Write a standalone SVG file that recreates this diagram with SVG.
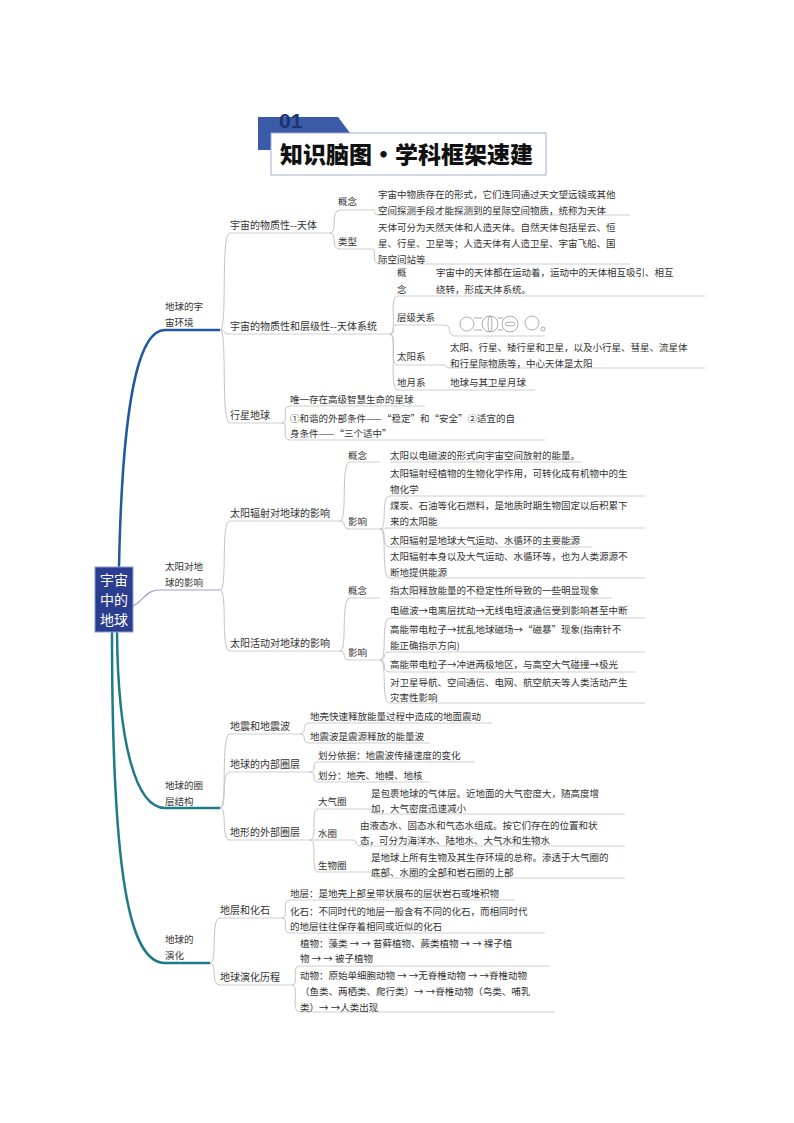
<svg xmlns="http://www.w3.org/2000/svg" width="794" height="1123" viewBox="0 0 794 1123">
<style>
text{font-family:"Noto Sans CJK SC","Noto Sans",sans-serif;fill:#333;font-size:9.5px}
.l2{font-size:10px}
.ul{stroke:#cfcfcf;stroke-width:1;fill:none}
.br{stroke:#c4c4c4;stroke-width:1;fill:none}
</style>
<rect width="794" height="1123" fill="#fff"/>
<g id="title">
<polygon points="258,117 338,117 350,133 271,133 271,150 258,150" fill="#3b5ba9"/>
<rect x="271" y="133" width="275" height="42" fill="#fff" stroke="#9fb0d0" stroke-width="1"/>
<text x="279" y="128" style="font-size:21px;font-weight:bold;fill:#1c3470;font-family:'Liberation Sans',sans-serif">01</text>
<text x="280" y="163" style="font-size:23px;font-weight:900;fill:#111">知识脑图·学科框架速建</text>
</g>
<g id="connectors">
<path d="M119,567 C122,420 135,330 165,330 L220,330" stroke="#1f5a9e" stroke-width="2.5" fill="none"/>
<path d="M133,606 C145,600 145,590 160,590 L220,590" stroke="#a89ad0" stroke-width="1.2" fill="none"/>
<path d="M117,632 C118,740 135,808 165,808 L220,808" stroke="#1e7c86" stroke-width="2.5" fill="none"/>
<path d="M112,632 C112,880 130,963 165,963 L210,963" stroke="#1e7c86" stroke-width="2.5" fill="none"/>
<g class="br">
<path d="M220,330 C228,330 220,233 230,233"/><path d="M220,330 C228,330 220,334 230,334"/><path d="M220,330 C228,330 220,423 230,423"/>
<path d="M330,233 C338,233 330,210 340,210"/><path d="M330,233 C338,233 330,249 340,249"/>
<path d="M372,210 C378,210 370,215 380,215"/><path d="M372,249 C378,249 370,264 380,264"/>
<path d="M390,334 C398,334 388,296 398,296"/><path d="M390,334 C398,334 388,325 398,325"/><path d="M390,334 C398,334 388,365 398,365"/><path d="M390,334 C398,334 388,390 398,390"/>
<path d="M445,325 C452,325 447,336 455,336"/><path d="M442,365 C450,365 443,368 452,368"/>
<path d="M282,423 C290,423 280,406 290,406"/><path d="M282,423 C290,423 280,440 290,440"/>
<path d="M220,590 C228,590 220,521 230,521"/><path d="M220,590 C228,590 220,651 230,651"/>
<path d="M340,521 C348,521 340,462 350,462"/><path d="M340,521 C348,521 340,529 350,529"/>
<path d="M380,529 C388,529 380,496 390,496"/><path d="M380,529 C388,529 380,528 390,528"/><path d="M380,529 C388,529 380,547 390,547"/><path d="M380,529 C388,529 380,578 390,578"/>
<path d="M340,651 C348,651 340,598 350,598"/><path d="M340,651 C348,651 340,660 350,660"/>
<path d="M380,660 C388,660 380,618 390,618"/><path d="M380,660 C388,660 380,652 390,652"/><path d="M380,660 C388,660 380,672 390,672"/><path d="M380,660 C388,660 380,703 390,703"/>
<path d="M220,808 C228,808 220,734 230,734"/><path d="M220,808 C228,808 220,772 230,772"/><path d="M220,808 C228,808 220,840 230,840"/>
<path d="M300,734 C308,734 300,723 310,723"/><path d="M300,734 C308,734 300,743 310,743"/>
<path d="M310,772 C318,772 310,762 318,762"/><path d="M310,772 C318,772 310,782 318,782"/>
<path d="M310,840 C318,840 310,809 318,809"/><path d="M310,840 C318,840 310,840 318,840"/><path d="M310,840 C318,840 310,872 318,872"/>
<path d="M370,809 C376,809 370,814 378,814"/><path d="M352,840 C360,840 352,846 362,846"/><path d="M370,872 C376,872 370,878 378,878"/>
<path d="M210,963 C218,963 210,918 220,918"/><path d="M210,963 C218,963 210,985 220,985"/>
<path d="M282,918 C290,918 280,900 290,900"/><path d="M282,918 C290,918 280,933 290,933"/>
<path d="M292,985 C300,985 290,966 300,966"/><path d="M292,985 C300,985 290,1012 300,1012"/>
</g>
<g class="ul">
<path d="M230,233 H330"/><path d="M230,334 H390"/><path d="M230,423 H282"/>
<path d="M340,210 H372"/><path d="M340,249 H372"/><path d="M380,215 H630"/><path d="M380,264 H630"/>
<path d="M398,296 H705"/><path d="M398,325 H445"/><path d="M455,336 H545"/><path d="M398,365 H442"/><path d="M452,368 H705"/><path d="M398,390 H535"/>
<path d="M290,406 H425"/><path d="M290,440 H545"/>
<path d="M230,521 H340"/><path d="M230,651 H340"/>
<path d="M350,462 H380"/><path d="M350,529 H380"/><path d="M390,462 H582"/>
<path d="M390,496 H645"/><path d="M390,528 H645"/><path d="M390,547 H592"/><path d="M390,578 H645"/>
<path d="M350,598 H380"/><path d="M350,660 H380"/><path d="M390,598 H612"/>
<path d="M390,618 H645"/><path d="M390,652 H645"/><path d="M390,672 H635"/><path d="M390,703 H645"/>
<path d="M230,734 H300"/><path d="M230,772 H310"/><path d="M230,840 H310"/>
<path d="M310,723 H492"/><path d="M310,743 H430"/><path d="M318,762 H475"/><path d="M318,782 H430"/>
<path d="M318,809 H370"/><path d="M318,840 H352"/><path d="M318,872 H370"/>
<path d="M378,814 H625"/><path d="M362,846 H625"/><path d="M378,878 H625"/>
<path d="M220,918 H282"/><path d="M220,985 H292"/>
<path d="M290,900 H515"/><path d="M290,933 H545"/><path d="M300,966 H550"/><path d="M300,1012 H555"/>
</g>
</g>
<g id="root">
<rect x="95" y="567" width="38" height="65" fill="#2b3d8f" stroke="#8fa0d0" stroke-width="1"/>
<text x="114" y="585" text-anchor="middle" style="fill:#fff;font-size:14px">宇宙</text>
<text x="114" y="605" text-anchor="middle" style="fill:#fff;font-size:14px">中的</text>
<text x="114" y="625" text-anchor="middle" style="fill:#fff;font-size:14px">地球</text>
</g>
<g id="b1">
<text x="165" y="310"><tspan x="165">地球的宇</tspan><tspan x="165" dy="16">宙环境</tspan></text>
<text class="l2" x="230" y="229">宇宙的物质性--天体</text>
<text x="338" y="205">概念</text><text x="338" y="245">类型</text>
<text x="378" y="198"><tspan x="378">宇宙中物质存在的形式，它们连同通过天文望远镜或其他</tspan><tspan x="378" dy="16">空间探测手段才能探测到的星际空间物质，统称为天体</tspan></text>
<text x="378" y="231"><tspan x="378">天体可分为天然天体和人造天体。自然天体包括星云、恒</tspan><tspan x="378" dy="16">星、行星、卫星等；人造天体有人造卫星、宇宙飞船、国</tspan><tspan x="378" dy="16">际空间站等</tspan></text>
<text class="l2" x="230" y="330">宇宙的物质性和层级性--天体系统</text>
<text x="397" y="276"><tspan x="397">概</tspan><tspan x="397" dy="17">念</tspan></text>
<text x="436" y="276"><tspan x="436">宇宙中的天体都在运动着，运动中的天体相互吸引、相互</tspan><tspan x="436" dy="17">绕转，形成天体系统。</tspan></text>
<text x="397" y="321">层级关系</text>
<g fill="none" stroke="#777" stroke-width="0.6">
<circle cx="467" cy="324" r="7"/><circle cx="490" cy="324" r="8"/><ellipse cx="490" cy="324" rx="2" ry="8"/><circle cx="510" cy="324" r="8"/><ellipse cx="510" cy="324" rx="5" ry="2"/><circle cx="532" cy="323" r="7"/><path d="M474,318 L482,318 M474,330 L482,330 M498,318 L503,318 M498,330 L503,330"/><circle cx="543" cy="329" r="2"/>
</g>
<text x="397" y="360">太阳系</text>
<text x="450" y="351"><tspan x="450">太阳、行星、矮行星和卫星，以及小行星、彗星、流星体</tspan><tspan x="450" dy="16">和行星际物质等，中心天体是太阳</tspan></text>
<text x="397" y="386">地月系</text><text x="450" y="386">地球与其卫星月球</text>
<text class="l2" x="230" y="419">行星地球</text>
<text x="290" y="403">唯一存在高级智慧生命的星球</text>
<text x="290" y="422"><tspan x="290">①和谐的外部条件——“稳定”和“安全”②适宜的自</tspan><tspan x="290" dy="15">身条件——“三个适中”</tspan></text>
</g>
<g id="b2">
<text x="165" y="570"><tspan x="165">太阳对地</tspan><tspan x="165" dy="16">球的影响</tspan></text>
<text class="l2" x="230" y="517">太阳辐射对地球的影响</text>
<text x="348" y="459">概念</text><text x="348" y="525">影响</text>
<text x="390" y="459">太阳以电磁波的形式向宇宙空间放射的能量。</text>
<text x="390" y="477"><tspan x="390">太阳辐射经植物的生物化学作用，可转化成有机物中的生</tspan><tspan x="390" dy="16">物化学</tspan></text>
<text x="390" y="509"><tspan x="390">煤炭、石油等化石燃料，是地质时期生物固定以后积累下</tspan><tspan x="390" dy="16">来的太阳能</tspan></text>
<text x="390" y="544">太阳辐射是地球大气运动、水循环的主要能源</text>
<text x="390" y="560"><tspan x="390">太阳辐射本身以及大气运动、水循环等，也为人类源源不</tspan><tspan x="390" dy="16">断地提供能源</tspan></text>
<text class="l2" x="230" y="647">太阳活动对地球的影响</text>
<text x="348" y="594">概念</text><text x="348" y="656">影响</text>
<text x="390" y="594">指太阳释放能量的不稳定性所导致的一些明显现象</text>
<text x="390" y="614">电磁波→电离层扰动→无线电短波通信受到影响甚至中断</text>
<text x="390" y="633"><tspan x="390">高能带电粒子→扰乱地球磁场→“磁暴”现象(指南针不</tspan><tspan x="390" dy="16">能正确指示方向)</tspan></text>
<text x="390" y="668">高能带电粒子→冲进两极地区，与高空大气碰撞→极光</text>
<text x="390" y="686"><tspan x="390">对卫星导航、空间通信、电网、航空航天等人类活动产生</tspan><tspan x="390" dy="15">灾害性影响</tspan></text>
</g>
<g id="b3">
<text x="165" y="789"><tspan x="165">地球的圈</tspan><tspan x="165" dy="16">层结构</tspan></text>
<text class="l2" x="230" y="730">地震和地震波</text>
<text x="310" y="720">地壳快速释放能量过程中造成的地面震动</text>
<text x="310" y="740">地震波是震源释放的能量波</text>
<text class="l2" x="230" y="768">地球的内部圈层</text>
<text x="318" y="759">划分依据：地震波传播速度的变化</text>
<text x="318" y="779">划分：地壳、地幔、地核</text>
<text class="l2" x="230" y="836">地形的外部圈层</text>
<text x="318" y="805">大气圈</text><text x="318" y="837">水圈</text><text x="318" y="869">生物圈</text>
<text x="371" y="797"><tspan x="371">是包裹地球的气体层。近地面的大气密度大，随高度增</tspan><tspan x="371" dy="15">加，大气密度迅速减小</tspan></text>
<text x="360" y="829"><tspan x="360">由液态水、固态水和气态水组成。按它们存在的位置和状</tspan><tspan x="360" dy="15">态，可分为海洋水、陆地水、大气水和生物水</tspan></text>
<text x="371" y="861"><tspan x="371">是地球上所有生物及其生存环境的总称。渗透于大气圈的</tspan><tspan x="371" dy="15">底部、水圈的全部和岩石圈的上部</tspan></text>
</g>
<g id="b4">
<text x="165" y="943"><tspan x="165">地球的</tspan><tspan x="165" dy="16">演化</tspan></text>
<text class="l2" x="220" y="914">地层和化石</text>
<text x="290" y="897">地层：是地壳上部呈带状展布的层状岩石或堆积物</text>
<text x="290" y="915"><tspan x="290">化石：不同时代的地层一般含有不同的化石，而相同时代</tspan><tspan x="290" dy="15">的地层往往保存着相同或近似的化石</tspan></text>
<text class="l2" x="220" y="981">地球演化历程</text>
<text x="300" y="947"><tspan x="300">植物：藻类 → → 苔藓植物、蕨类植物 → → 裸子植</tspan><tspan x="300" dy="15">物 → → 被子植物</tspan></text>
<text x="300" y="979"><tspan x="300">动物：原始单细胞动物 → →无脊椎动物 → →脊椎动物</tspan><tspan x="300" dy="16">（鱼类、两栖类、爬行类）→ →脊椎动物（鸟类、哺乳</tspan><tspan x="300" dy="16">类）→ →人类出现</tspan></text>
</g>
</svg>
